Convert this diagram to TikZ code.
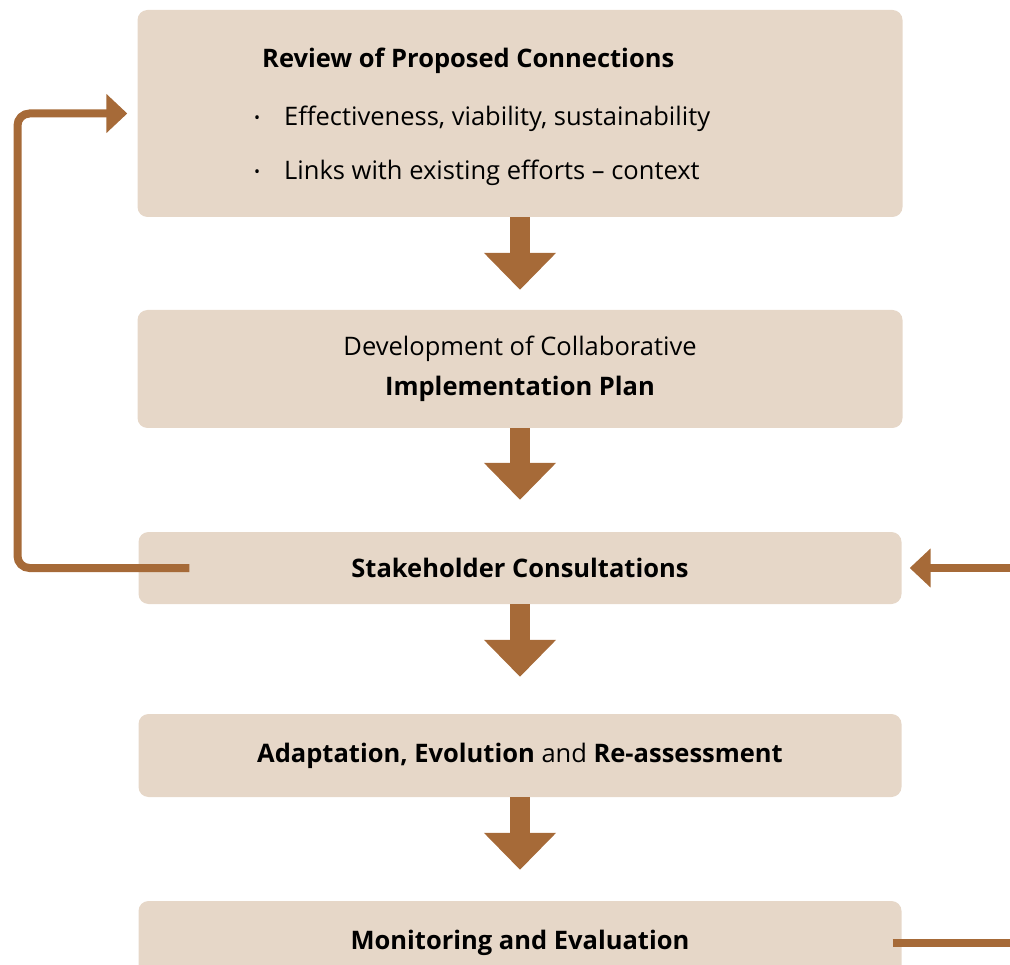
\documentclass[tikz,border=0pt]{standalone}
\usepackage{fontspec}
\setmainfont{Open Sans}
\usetikzlibrary{arrows.meta, positioning, calc}
\definecolor{boxfill}{HTML}{E6D7C8}
\definecolor{arrowbrown}{HTML}{A66A38}
\tikzset{
    stage/.style={fill=boxfill, rounded corners=10pt, minimum width=763pt, inner sep=0pt, align=center, font=\fontsize{25.5}{40}\selectfont},
    caption/.style={anchor=base west, inner sep=0pt, font=\fontsize{25.5}{30}\selectfont},
    flow/.style={-{Triangle[length=37pt, width=70pt]}, line width=20pt, arrowbrown},
    feed/.style={-{Triangle[length=21pt, width=38pt]}, line width=8pt, arrowbrown},
    feedline/.style={line width=8pt, arrowbrown}
}
\newcommand{\bulletmark}{\makebox[30pt][l]{\raisebox{2pt}{\fontsize{16}{16}\selectfont\textbullet}}}

\begin{document}
\begin{tikzpicture}[x=1pt, y=-1pt]
    \clip (0,0) rectangle (1010,965);
    % stages
    \node (review) [stage, minimum width=765pt, minimum height=207pt] at (520,113.5) {};
    \node (plan) [stage, minimum width=765pt, minimum height=118pt] at (520,369) {Development of Collaborative\\\textbf{Implementation Plan}};
    \node (consult) [stage, minimum height=72pt] at (520,568) {\textbf{Stakeholder Consultations}};
    \node (adapt) [stage, minimum height=83pt] at (520,755.5) {\textbf{Adaptation, Evolution} and \textbf{Re-assessment}};
    \node (monitor) [stage, minimum height=84pt] at (520,943) {\textbf{Monitoring and Evaluation}};

    \node (title) [caption] at (262,68) {\textbf{Review of Proposed Connections}};
    \node (itemA) [caption] at (254,126) {\bulletmark Effectiveness, viability, sustainability};
    \node (itemB) [caption] at (254,180) {\bulletmark Links with existing efforts -- context};

    % main flow
    \draw [flow, shorten >=20pt] (review.south) -- (plan.north);
    \draw [flow, shorten >=32pt] (plan.south) -- (consult.north);
    \draw [flow, shorten >=37pt] (consult.south) -- (adapt.north);
    \draw [flow, shorten >=31pt] (adapt.south) -- (monitor.north);

    % feedback
    \coordinate (loopleft) at (17.5,0);
    \coordinate (rightedge) at (1010,0);
    \draw [feed, rounded corners=12pt, shorten >=10pt] ([xshift=51pt]consult.west) -| (loopleft |- review.west) -- (review.west);
    \draw [feed, shorten >=8pt] (consult.east -| rightedge) -- (consult.east);
    \draw [feedline] ([xshift=-9pt]monitor.east) -- (monitor.east -| rightedge);
\end{tikzpicture}
\end{document}
